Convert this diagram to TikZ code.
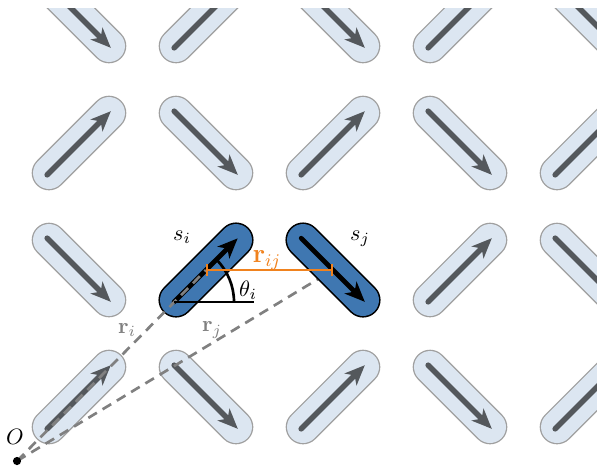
\documentclass[tikz,border=0pt]{standalone}
\usepackage{amssymb}
\usepackage{amsmath}
\usetikzlibrary{arrows.meta}

\definecolor{rodfill}{RGB}{220,230,241}
\definecolor{rodedge}{RGB}{160,160,160}
\definecolor{spingray}{RGB}{84,88,92}
\definecolor{rodblue}{RGB}{63,119,177}
\definecolor{rijorange}{RGB}{240,130,30}
\definecolor{posgray}{RGB}{128,128,128}

\begin{document}
\begin{tikzpicture}[x=0.45pt, y=0.45pt,
    rod/.style={line cap=round, draw=rodedge, line width=0.6pt, double=rodfill, double distance=14.4pt},
    hotrod/.style={rod, draw=black, line width=0.7pt, double=rodblue},
    spin/.style={spingray, line width=2.5pt, line cap=round, -{Stealth[length=9pt, width=7.5pt, inset=2.5pt]}},
    hotspin/.style={spin, black, line width=2.1pt},
    posvec/.style={posgray, line width=1.2pt, dash pattern=on 4.5pt off 3pt},
    relvec/.style={rijorange, line width=1.1pt, {Bar[width=5.5pt]}-{Bar[width=5.5pt]}}]
        \useasboundingbox (0,0) rectangle (597,466);

        \begin{scope}
          \clip (0,0) rectangle (597,458);

          \foreach \i in {0,...,4} {
            \foreach \j in {0,...,3} {
              \pgfmathtruncatemacro{\ang}{mod(\i+\j,2)==0 ? 45 : -45}
              \draw[rod] ({79+127*\i}, {69+127*\j}) ++({\ang+180}:42.4) -- ++(\ang:84.8);
              \draw[spin] ({79+127*\i}, {69+127*\j}) ++({\ang+180}:45) -- ++(\ang:90);
            }
          }
        \end{scope}

        \coordinate (O) at (17, 5);
        \coordinate (si) at (206, 196);
        \coordinate (sj) at (333, 196);
        \coordinate (si tail) at (174, 164);

        \draw[hotrod] (si) ++(-135:42.4) -- ++(45:84.8);
        \draw[hotspin] (si tail) -- ++(45:90);

        \draw[posvec] (O) -- (si);
        \draw[posvec] (O) -- (sj);

        \draw[hotrod] (sj) ++(135:42.4) -- ++(-45:84.8);
        \draw[hotspin] (sj) ++(135:45) -- ++(-45:90);

        \draw[line width=1.2pt] (si tail) -- ++(80, 0);
        \draw[line width=1.2pt] (si tail) ++(60, 0) arc[start angle=0, end angle=45, radius=60];

        \draw[relvec] (si) -- (sj);

        \node (si label) at (182, 229) {$s_i$};
        \node (sj label) at (360, 227) {$s_j$};
        \node[text=rijorange] (rij label) at (267, 206) {\large$\mathbf{r}_{ij}$};
        \node (theta label) at (248, 176) {$\theta_i$};
        \node[text=posgray] (ri label) at (127, 136) {$\mathbf{r}_i$};
        \node[text=posgray] (rj label) at (212, 136) {$\mathbf{r}_j$};
        \node (O label) at (15, 29) {$O$};
        \node[circle, fill, inner sep=1.3pt] (O dot) at (O) {};
      \end{tikzpicture}
\end{document}
